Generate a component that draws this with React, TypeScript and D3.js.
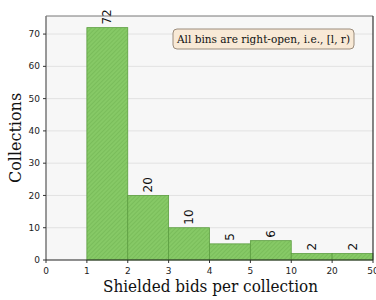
import React from "react";
import * as d3 from "d3";

const binEdges = ["0", "1", "2", "3", "4", "5", "10", "20", "50"];
const counts = [0, 72, 20, 10, 5, 6, 2, 2];
const yTicks = [0, 10, 20, 30, 40, 50, 60, 70];
const note = "All bins are right-open, i.e., [l, r)";
const xLabel = "Shielded bids per collection";
const yLabel = "Collections";

export default function App() {
  const W = 376, H = 300;
  const m = { l: 46, r: 3, t: 16, b: 40 };
  const x = d3.scaleLinear().domain([0, binEdges.length - 1]).range([m.l, W - m.r]);
  const y = d3.scaleLinear().domain([0, 75.6]).range([H - m.b, m.t]);
  const sans = "DejaVu Sans, sans-serif";
  const serif = "DejaVu Serif, serif";
  return (
    <svg width={W} height={H} style={{ position: "absolute", left: 0, top: 0, background: "#fff" }}>
      <defs>
        <pattern id="hatch" patternUnits="userSpaceOnUse" width="3" height="3" patternTransform="rotate(45)">
          <rect width="3" height="3" fill="#86c966" />
          <line x1="0" y1="0" x2="0" y2="3" stroke="#6fb150" strokeWidth="1" />
        </pattern>
      </defs>
      <rect x={m.l} y={m.t} width={W - m.l - m.r} height={H - m.t - m.b} fill="#f7f7f7" />
      {yTicks.slice(1).map((t) => (
        <line key={t} x1={m.l} x2={W - m.r} y1={y(t)} y2={y(t)} stroke="#e2e2e2" strokeWidth={1} />
      ))}
      {counts.map((c, i) =>
        c > 0 ? (
          <g key={i}>
            <rect x={x(i)} y={y(c)} width={x(i + 1) - x(i)} height={y(0) - y(c)} fill="url(#hatch)" stroke="#5c9e40" strokeWidth={0.8} />
            <text
              transform={`translate(${(x(i) + x(i + 1)) / 2 + 4},${y(c) - 3}) rotate(-90)`}
              fontFamily={sans}
              fontSize={12}
              fill="#111"
            >
              {c}
            </text>
          </g>
        ) : null
      )}
      <line x1={m.l} x2={W - m.r} y1={m.t} y2={m.t} stroke="#777" strokeWidth={1} />
      <line x1={W - m.r} x2={W - m.r} y1={m.t} y2={H - m.b} stroke="#333" strokeWidth={1.2} />
      <line x1={m.l} x2={m.l} y1={m.t} y2={H - m.b} stroke="#777" strokeWidth={1.5} />
      <line x1={m.l} x2={W - m.r} y1={H - m.b} y2={H - m.b} stroke="#222" strokeWidth={1.2} />
      {yTicks.map((t) => (
        <g key={t}>
          <line x1={m.l - 3} x2={m.l} y1={y(t)} y2={y(t)} stroke="#333" />
          <text x={m.l - 6} y={y(t)} dy="0.35em" textAnchor="end" fontFamily={sans} fontSize={9} fill="#222">
            {t}
          </text>
        </g>
      ))}
      {binEdges.map((e, i) => (
        <g key={e}>
          <line x1={x(i)} x2={x(i)} y1={H - m.b} y2={H - m.b + 3} stroke="#333" />
          <text x={x(i)} y={H - m.b + 14} textAnchor="middle" fontFamily={sans} fontSize={9} fill="#222">
            {e}
          </text>
        </g>
      ))}
      <text x={210.5} y={292} textAnchor="middle" fontFamily={serif} fontSize={16} textLength={215} lengthAdjust="spacingAndGlyphs" fill="#111">
        {xLabel}
      </text>
      <text transform={`translate(21,${(m.t + H - m.b) / 2}) rotate(-90)`} textAnchor="middle" fontFamily={serif} fontSize={16} fill="#111">
        {yLabel}
      </text>
      <rect x={173} y={29} width={181} height={20} rx={4} fill="#f8e9d6" stroke="#9b8c7c" strokeWidth={1} />
      <text x={263.5} y={43} textAnchor="middle" fontFamily={serif} fontSize={11} textLength={173} lengthAdjust="spacingAndGlyphs" fill="#111">
        {note}
      </text>
    </svg>
  );
}
